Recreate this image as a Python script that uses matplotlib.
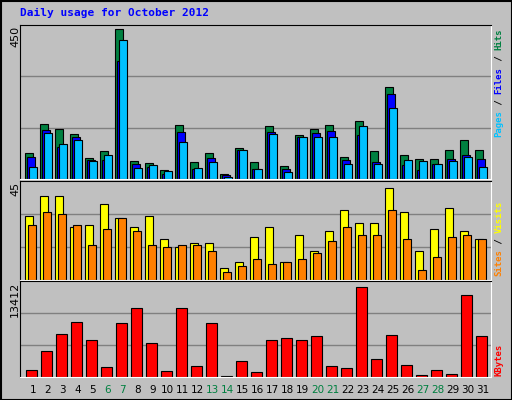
import numpy as np
import matplotlib.pyplot as plt
from matplotlib.patches import Rectangle

days = list(range(1, 32))
weekend = [6, 7, 13, 14, 20, 21, 27, 28]
hits = [77, 166, 151, 135, 62, 83, 450, 53, 47, 28, 163, 50, 77, 16, 93, 50, 160, 38, 132, 151, 163, 66, 175, 83, 277, 71, 59, 59, 87, 117, 87]
files = [65, 148, 97, 126, 56, 56, 355, 44, 35, 16, 142, 29, 62, 13, 87, 29, 142, 29, 126, 138, 144, 56, 132, 50, 255, 41, 26, 44, 59, 71, 59]
pages = [35, 138, 105, 117, 53, 71, 419, 32, 41, 23, 111, 32, 50, 7, 87, 29, 135, 20, 126, 126, 126, 44, 160, 44, 214, 56, 53, 44, 53, 65, 35]
visits = [31, 41, 41, 26, 27, 37, 30, 26, 31, 20, 16, 18, 18, 6, 9, 21, 26, 9, 22, 14, 24, 34, 28, 28, 45, 33, 14, 25, 35, 24, 20]
sites = [27, 33, 32, 27, 17, 25, 30, 24, 17, 16, 17, 17, 14, 4, 7, 10, 8, 9, 10, 13, 19, 26, 22, 22, 34, 20, 5, 11, 21, 22, 20]
kbytes = [1077, 3866, 6363, 8125, 5481, 1517, 7978, 10181, 5040, 930, 10181, 1664, 7978, 196, 2399, 783, 5481, 5775, 5481, 6069, 1664, 1370, 13412, 2693, 6216, 1811, 343, 1077, 489, 12237, 6069]

BG = "#C0C0C0"
GRID = "#808080"
H = 400.0
W = 512.0

fig = plt.figure(figsize=(5.12, 4.0), dpi=100)
fig.patch.set_facecolor(BG)
fig.patches.append(Rectangle((0.5 / W, 0.5 / H), 1 - 1 / W, 1 - 1 / H, transform=fig.transFigure,
                             fill=False, edgecolor="black", linewidth=1.5))

x0, x1 = 20, 491
xlim = ((x0 - 25.3) / 15, (x1 - 25.3) / 15)


def panel(top, bottom):
    ax = fig.add_axes([x0 / W, 1 - bottom / H, (x1 - x0) / W, (bottom - top) / H])
    ax.set_facecolor(BG)
    ax.set_xlim(*xlim)
    for s in ax.spines.values():
        s.set_color("white")
    ax.spines["left"].set_color("black")
    ax.spines["top"].set_color("black")
    ax.set_xticks([])
    ax.set_yticks([])
    return ax


x = np.array(days) - 1

ax1 = panel(25, 179)
ymax1 = 450 * 151.5 / 147.3
ax1.set_ylim(0, ymax1)
for g in (ymax1 / 3, 2 * ymax1 / 3):
    ax1.axhline(g, color=GRID, lw=1, zorder=0)
ax1.bar(x, hits, width=0.49, align="edge", color="#008040", edgecolor="black", lw=0.8)
ax1.bar(x + 0.133, files, width=0.49, align="edge", color="#0000FF", edgecolor="black", lw=0.8)
ax1.bar(x + 0.267, pages, width=0.49, align="edge", color="#00C0FF", edgecolor="black", lw=0.8)

ax2 = panel(181, 280)
ymax2 = 45 * 99 / 92.3
ax2.set_ylim(0, ymax2)
for g in (ymax2 / 3, 2 * ymax2 / 3):
    ax2.axhline(g, color=GRID, lw=1, zorder=0)
ax2.bar(x, visits, width=0.53, align="edge", color="#FFFF00", edgecolor="black", lw=0.8)
ax2.bar(x + 0.2, sites, width=0.49, align="edge", color="#FF8000", edgecolor="black", lw=0.8)

ax3 = panel(281, 377)
ymax3 = 13412 * 97 / 91.3
ax3.set_ylim(0, ymax3)
for g in (ymax3 / 3, 2 * ymax3 / 3):
    ax3.axhline(g, color=GRID, lw=1, zorder=0)
ax3.bar(x + 0.067, kbytes, width=0.69, align="edge", color="#FF0000", edgecolor="black", lw=0.8)

for d in days:
    ax3.text(d - 1 + 0.49, -0.135 * ymax3, str(d), ha="center", va="center", fontsize=7.5,
             color="#008040" if d in weekend else "black", clip_on=False)

mono = "DejaVu Sans Mono"
fig.text(20 / W, 1 - 13 / H, "Daily usage for October 2012", color="#0000FF", fontsize=8,
         fontweight="bold", family=mono, va="center")

for txt, ypix in (("450", 26), ("45", 182), ("13412", 282)):
    fig.text(15 / W, 1 - ypix / H, txt, rotation=90, ha="center", va="top", fontsize=8)

SIDE_FS = 6.5
ADV = 0.602 * SIDE_FS * 100 / 72


def side_label(parts, bottom_pix):
    y = bottom_pix
    for t, c in parts:
        fig.text(499 / W, 1 - y / H, t, rotation=90, ha="center", va="bottom",
                 fontsize=SIDE_FS, family=mono, fontweight="bold", color=c)
        y -= len(t) * ADV


side_label([("Pages", "#00C0FF"), (" / ", "black"), ("Files", "#0000FF"), (" / ", "black"), ("Hits", "#008040")], 137)
side_label([("Sites", "#FF8000"), (" / ", "black"), ("Visits", "#FFFF00")], 276)
side_label([("KBytes", "#FF0000")], 376)

fig.savefig("out.png", dpi=100, facecolor=BG)
